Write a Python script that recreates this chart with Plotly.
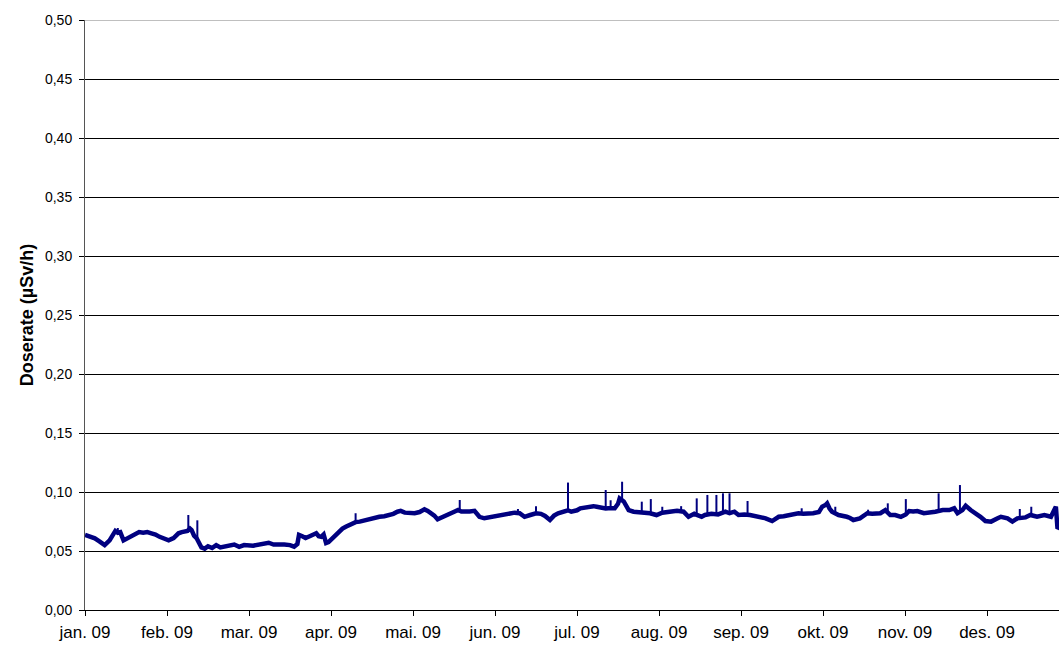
import plotly.graph_objects as go

# x positions in months since 1 Jan 2009 (equal spacing per month, as in the original)
month_pos = [
    0.00, 0.06, 0.12, 0.18, 0.24, 0.30, 0.34, 0.37, 0.40, 0.43, 0.47, 0.51, 0.55, 0.61, 0.66,
    0.71, 0.76, 0.81, 0.86, 0.91, 0.96, 1.02, 1.08, 1.14, 1.18, 1.22, 1.25, 1.28, 1.30, 1.33,
    1.36, 1.39, 1.42, 1.46, 1.50, 1.55, 1.60, 1.65, 1.70, 1.76, 1.82, 1.88, 1.94, 2.05, 2.12,
    2.17, 2.24, 2.30, 2.37, 2.43, 2.50, 2.55, 2.59, 2.61, 2.65, 2.69, 2.74, 2.78, 2.82, 2.85,
    2.88, 2.91, 2.94, 2.97, 3.02, 3.06, 3.10, 3.14, 3.18, 3.22, 3.26, 3.30, 3.35, 3.41, 3.47,
    3.53, 3.59, 3.65, 3.71, 3.76, 3.81, 3.85, 3.90, 3.94, 4.02, 4.08, 4.14, 4.18, 4.22, 4.26,
    4.30, 4.34, 4.39, 4.43, 4.47, 4.51, 4.55, 4.59, 4.63, 4.69, 4.75, 4.81, 4.87, 4.93, 4.99,
    5.05, 5.12, 5.18, 5.24, 5.30, 5.36, 5.43, 5.50, 5.56, 5.61, 5.67, 5.72, 5.77, 5.85, 5.89,
    5.93, 6.00, 6.04, 6.10, 6.16, 6.20, 6.24, 6.30, 6.35, 6.38, 6.42, 6.46, 6.50, 6.52, 6.57,
    6.59, 6.63, 6.69, 6.77, 6.83, 6.89, 6.97, 7.04, 7.13, 7.22, 7.30, 7.36, 7.43, 7.52, 7.56,
    7.64, 7.72, 7.81, 7.86, 7.92, 7.97, 8.04, 8.11, 8.21, 8.30, 8.38, 8.46, 8.52, 8.58, 8.64,
    8.70, 8.76, 8.82, 8.88, 8.95, 8.99, 9.03, 9.05, 9.08, 9.11, 9.19, 9.24, 9.29, 9.33, 9.37,
    9.45, 9.50, 9.54, 9.60, 9.64, 9.70, 9.76, 9.82, 9.88, 9.95, 10.01, 10.05, 10.10, 10.15, 10.23,
    10.31, 10.37, 10.46, 10.54, 10.60, 10.64, 10.70, 10.74, 10.80, 10.86, 10.92, 10.98, 11.05, 11.13, 11.17,
    11.25, 11.31, 11.37, 11.42, 11.47, 11.53, 11.61, 11.70, 11.78, 11.84, 11.86, 11.878,
]
dose = [
    0.0636, 0.0620, 0.0607, 0.0580, 0.0550, 0.0590, 0.0640, 0.0670, 0.0655, 0.0660, 0.0590, 0.0605, 0.0620, 0.0650, 0.0660,
    0.0655, 0.0660, 0.0650, 0.0640, 0.0620, 0.0605, 0.0590, 0.0610, 0.0650, 0.0660, 0.0664, 0.0670, 0.0690, 0.0678, 0.0630,
    0.0610, 0.0570, 0.0530, 0.0520, 0.0540, 0.0525, 0.0550, 0.0530, 0.0535, 0.0545, 0.0555, 0.0535, 0.0550, 0.0545, 0.0555,
    0.0565, 0.0570, 0.0555, 0.0560, 0.0555, 0.0550, 0.0537, 0.0560, 0.0636, 0.0625, 0.0610, 0.0625, 0.0640, 0.0650, 0.0625,
    0.0620, 0.0640, 0.0567, 0.0575, 0.0610, 0.0640, 0.0660, 0.0690, 0.0706, 0.0720, 0.0734, 0.0745, 0.0749, 0.0760, 0.0777,
    0.0785, 0.0790, 0.0795, 0.0805, 0.0815, 0.0833, 0.0840, 0.0825, 0.0825, 0.0820, 0.0830, 0.0853, 0.0840, 0.0820, 0.0800,
    0.0768, 0.0780, 0.0797, 0.0805, 0.0820, 0.0830, 0.0847, 0.0835, 0.0833, 0.0835, 0.0840, 0.0790, 0.0777, 0.0785, 0.0797,
    0.0800, 0.0810, 0.0815, 0.0825, 0.0820, 0.0790, 0.0805, 0.0820, 0.0815, 0.0797, 0.0763, 0.0800, 0.0820, 0.0840, 0.0845,
    0.0833, 0.0845, 0.0862, 0.0870, 0.0884, 0.0880, 0.0875, 0.0862, 0.0860, 0.0862, 0.0860, 0.0862, 0.0900, 0.0946, 0.0920,
    0.0900, 0.0847, 0.0833, 0.0830, 0.0825, 0.0820, 0.0805, 0.0825, 0.0833, 0.0840, 0.0833, 0.0790, 0.0815, 0.0790, 0.0805,
    0.0815, 0.0810, 0.0833, 0.0820, 0.0833, 0.0805, 0.0810, 0.0805, 0.0790, 0.0777, 0.0754, 0.0790, 0.0795, 0.0805, 0.0810,
    0.0820, 0.0815, 0.0815, 0.0820, 0.0830, 0.0876, 0.0890, 0.0904, 0.0860, 0.0833, 0.0805, 0.0800, 0.0790, 0.0780, 0.0763,
    0.0777, 0.0800, 0.0820, 0.0815, 0.0815, 0.0820, 0.0847, 0.0805, 0.0805, 0.0790, 0.0810, 0.0839, 0.0835, 0.0839, 0.0820,
    0.0825, 0.0833, 0.0847, 0.0847, 0.0862, 0.0820, 0.0847, 0.0884, 0.0847, 0.0820, 0.0790, 0.0754, 0.0749, 0.0777, 0.0790,
    0.0777, 0.0749, 0.0777, 0.0785, 0.0785, 0.0805, 0.0790, 0.0805, 0.0790, 0.0876, 0.0690, 0.0700,
]

# short peaks: position (months), local level, peak value
spike_pos = [0.40, 1.26, 1.37, 3.30, 4.57, 5.28, 5.50, 5.89, 6.35, 6.41, 6.55, 6.79, 6.90, 7.04, 7.27,
             7.46, 7.59, 7.70, 7.78, 7.86, 8.08, 8.74, 9.15, 9.55, 9.79, 10.01, 10.41, 10.67, 11.40, 11.54]
spike_base = [0.065, 0.067, 0.060, 0.074, 0.084, 0.082, 0.082, 0.084, 0.086, 0.086, 0.094, 0.083, 0.082, 0.082, 0.083,
              0.080, 0.080, 0.081, 0.082, 0.082, 0.081, 0.082, 0.083, 0.082, 0.084, 0.080, 0.083, 0.084, 0.078, 0.080]
spike_peak = [0.0695, 0.0805, 0.0760, 0.0820, 0.0932, 0.0856, 0.0880, 0.1080, 0.1017, 0.0930, 0.1087, 0.0918, 0.0940, 0.0875, 0.0880,
              0.0946, 0.0975, 0.0975, 0.0989, 0.0989, 0.0924, 0.0862, 0.0875, 0.0850, 0.0904, 0.0940, 0.0989, 0.1059, 0.0856, 0.0875]

month_labels = ["jan. 09", "feb. 09", "mar. 09", "apr. 09", "mai. 09", "jun. 09",
                "jul. 09", "aug. 09", "sep. 09", "okt. 09", "nov. 09", "des. 09"]

LINE = "#000080"
FONT = "Arial, Liberation Sans, sans-serif"

sx, sy = [], []
for p, b, v in zip(spike_pos, spike_base, spike_peak):
    sx += [p, p, None]
    sy += [b, v, None]

fig = go.Figure()
fig.add_trace(go.Scatter(x=month_pos, y=dose, mode="lines",
                         line=dict(color=LINE, width=4.5), hoverinfo="skip"))
fig.add_trace(go.Scatter(x=sx, y=sy, mode="lines",
                         line=dict(color=LINE, width=2), hoverinfo="skip"))

fig.update_layout(
    width=1059, height=650,
    margin=dict(l=85, r=0, t=20, b=40),
    paper_bgcolor="white", plot_bgcolor="white",
    showlegend=False,
    separators=", ",
    font=dict(family=FONT, size=14, color="black"),
    # top frame line at 0,50 is grey in the original
    shapes=[dict(type="line", xref="paper", yref="y", x0=0, x1=1, y0=0.5, y1=0.5,
                 line=dict(color="#808080", width=1))],
)
fig.update_xaxes(
    range=[0, 11.878],
    tickmode="array", tickvals=list(range(len(month_labels))), ticktext=month_labels,
    ticks="outside", ticklen=5, tickcolor="black",
    showline=True, linecolor="black", linewidth=1,
    showgrid=False, zeroline=False, automargin=False,
    tickfont=dict(size=17), ticklabelstandoff=2,
)
fig.update_yaxes(
    range=[0, 0.5], dtick=0.05, tickformat=".2f",
    ticks="outside", ticklen=5, tickcolor="black",
    showline=True, linecolor="#555555", linewidth=1,
    showgrid=True, gridcolor="black", gridwidth=1, zeroline=False, automargin=False,
    tickfont=dict(size=14), ticklabelstandoff=4,
    title=dict(text="<b>Doserate (µSv/h)</b>", font=dict(size=18), standoff=6),
)

fig.write_html("out.html", config={"displayModeBar": False},
               post_script="document.body.style.margin='0';")
